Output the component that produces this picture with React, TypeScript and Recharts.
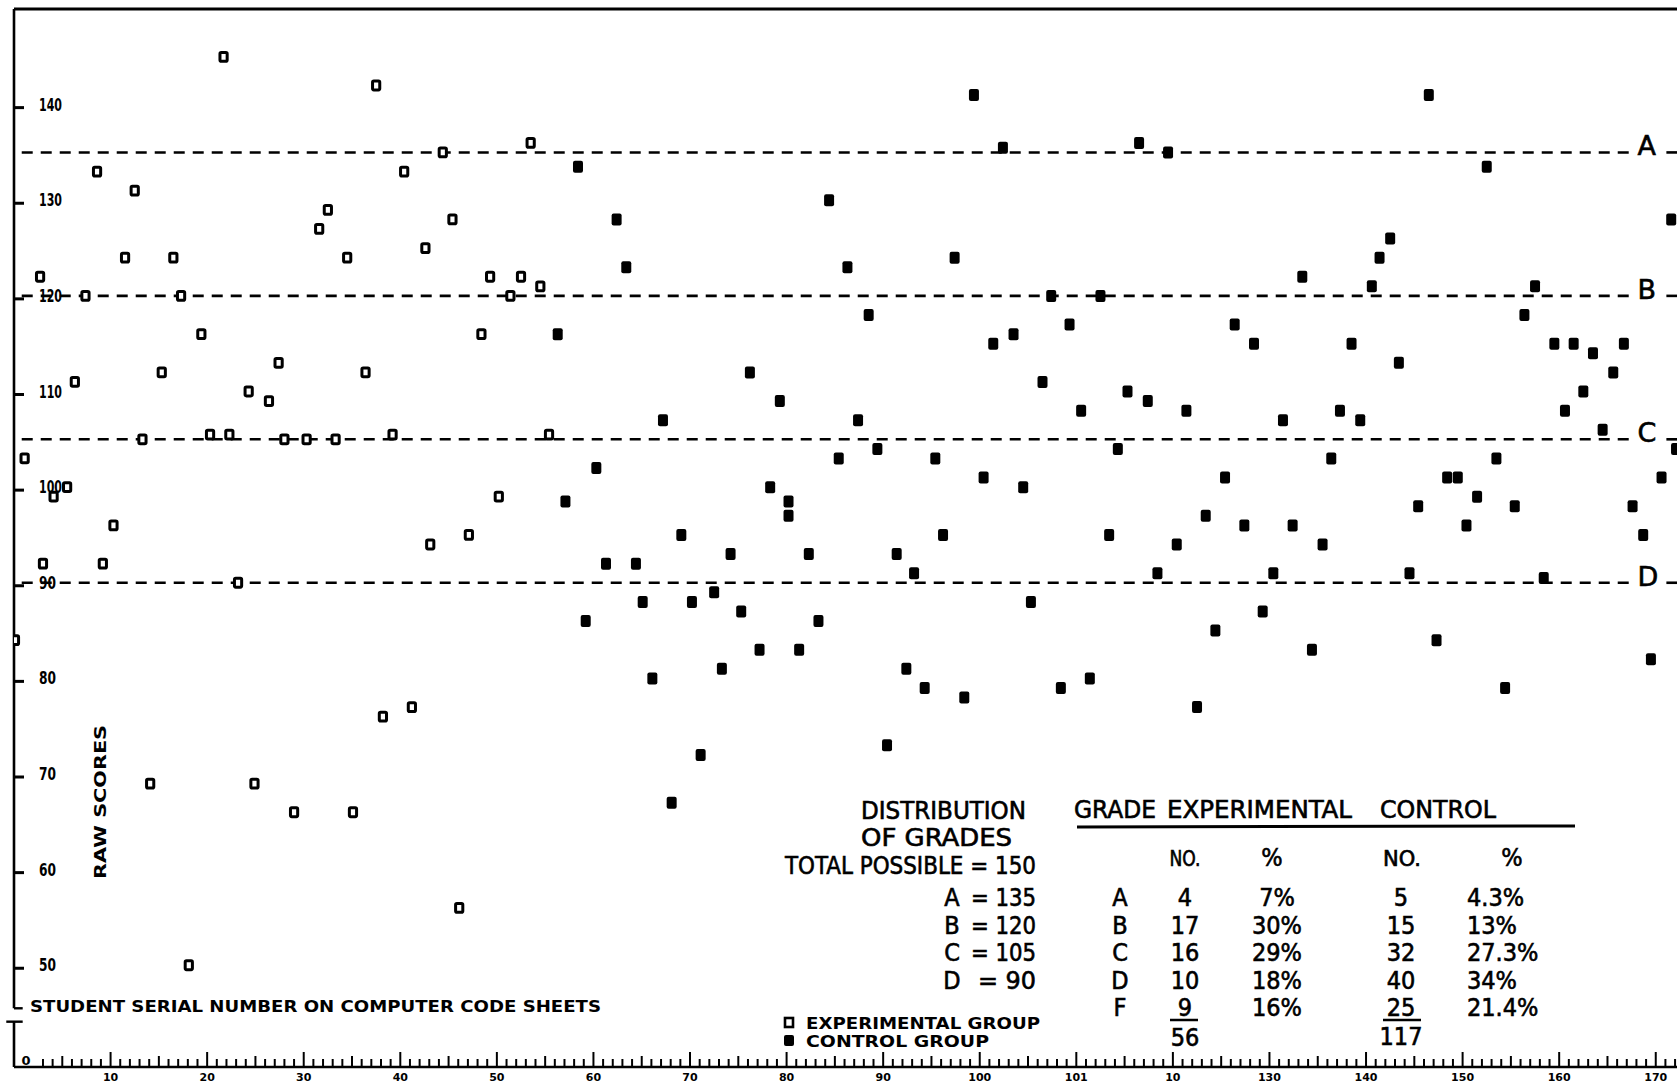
import React from 'react';
import { ScatterChart, Scatter, XAxis, YAxis, ReferenceLine } from 'recharts';

// ---------- data ----------
const expSerial = [0.1, 1.1, 2.7, 3.0, 4.1, 5.5, 6.3, 7.4, 8.6, 9.2, 10.3, 11.5, 12.5, 13.3, 14.1, 15.3, 16.5, 17.3, 18.1, 19.4, 20.3, 21.7, 22.3, 23.2, 24.3, 24.9, 26.4, 27.4, 28.0, 29.0, 30.3, 31.6, 32.5, 33.3, 34.5, 35.1, 36.4, 37.5, 38.2, 39.2, 40.4, 41.2, 42.6, 43.1, 44.4, 45.4, 46.1, 47.1, 48.4, 49.3, 50.2, 51.4, 52.5, 53.5, 54.5, 55.4];
const expScore = [84, 103, 122, 92, 99, 100, 111, 120, 133, 92, 96, 124, 131, 105, 69, 112, 124, 120, 50, 116, 105.5, 145, 105.5, 90, 110, 69, 109, 113, 105, 66, 105, 127, 129, 105, 124, 66, 112, 142, 76, 105.5, 133, 77, 125, 94, 135, 128, 56, 95, 116, 122, 99, 120, 122, 136, 121, 105.5];

const ctrlSerial = [56.3, 57.1, 58.4, 59.2, 60.3, 61.3, 62.4, 63.4, 64.4, 65.1, 66.1, 67.2, 68.1, 69.1, 70.2, 71.1, 72.5, 73.3, 74.2, 75.3, 76.2, 77.2, 78.3, 79.3, 80.2, 80.2, 81.3, 82.3, 83.3, 84.4, 85.4, 86.3, 87.4, 88.5, 89.4, 90.4, 91.4, 92.4, 93.2, 94.3, 95.4, 96.2, 97.4, 98.4, 99.4, 100.4, 101.4, 102.4, 103.5, 104.5, 105.3, 106.5, 107.4, 108.4, 109.3, 110.5, 111.4, 112.5, 113.4, 114.3, 115.3, 116.5, 117.4, 118.4, 119.5, 120.4, 121.4, 122.5, 123.4, 124.4, 125.4, 126.4, 127.4, 128.4, 129.3, 130.4, 131.4, 132.4, 133.4, 134.4, 135.5, 136.4, 137.3, 138.5, 139.4, 140.6, 141.4, 142.5, 143.4, 144.5, 145.4, 146.5, 147.3, 148.4, 149.5, 150.4, 151.5, 152.5, 153.5, 154.4, 155.4, 156.4, 157.5, 158.4, 159.5, 160.6, 161.5, 162.5, 163.5, 164.5, 165.6, 166.7, 167.6, 168.7, 169.5, 170.6, 171.6, 172.1];
const ctrlScore = [116, 98.5, 133.5, 86, 102, 92, 128, 123, 92, 88, 80, 107, 67, 95, 88, 72, 89, 81, 93, 87, 112, 83, 100, 109, 98.5, 97, 83, 93, 86, 130, 103, 123, 107, 118, 104, 73, 93, 81, 91, 79, 103, 95, 124, 78, 141, 101, 115, 135.5, 116, 100, 88, 111, 120, 79, 117, 108, 80, 120, 95, 104, 110, 136, 109, 91, 135, 94, 108, 77, 97, 85, 101, 117, 96, 115, 87, 91, 107, 96, 122, 83, 94, 103, 108, 115, 107, 121, 124, 126, 113, 91, 98, 141, 84, 101, 101, 96, 99, 133.5, 103, 79, 98, 118, 121, 90.5, 115, 108, 115, 110, 114, 106, 112, 115, 98, 95, 82, 101, 128, 104];

const scoreTicks = [50, 60, 70, 80, 90, 100, 110, 120, 130, 140];
const serialTickLabels = ['10', '20', '30', '40', '50', '60', '70', '80', '90', '100', '101', '10', '130', '140', '150', '160', '170'];
const gradeLetters = ['A', 'B', 'C', 'D'];
const gradeCutoffs = [135, 120, 105, 90];

const tableGrades = ['A', 'B', 'C', 'D', 'F'];
const cutoffLabels = ['= 135', '= 120', '= 105', '= 90'];
const expNo = ['4', '17', '16', '10', '9'];
const expPct = ['7%', '30%', '29%', '18%', '16%'];
const ctrlNo = ['5', '15', '32', '40', '25'];
const ctrlPct = ['4.3%', '13%', '27.3%', '34%', '21.4%'];
const expTotal = '56';
const ctrlTotal = '117';

// ---------- layout ----------
const W = 1677;
const H = 1084;
const X_MAX = 172.2;
const Y_MIN = 39.36;
const Y_MAX = 150;
const HAND = '"DejaVu Sans Condensed", "Liberation Sans Narrow", "DejaVu Sans", sans-serif';
const BLOCK = '"DejaVu Sans", "Liberation Sans", sans-serif';

const expData = expSerial.map((x, i) => ({ x, y: expScore[i] }));
const ctrlData = ctrlSerial.map((x, i) => ({ x, y: ctrlScore[i] }));
const rulerTicks = [0, ...Array.from({ length: 170 }, (_, i) => i + 3)];

const OpenSquare = (p: any) => (
  <rect x={p.cx - 3.6} y={p.cy - 4.4} width={7.2} height={8.8} fill="#fff" stroke="#000" strokeWidth={3} rx={1.3} />
);
const FilledSquare = (p: any) => (
  <rect x={p.cx - 5} y={p.cy - 6} width={10} height={12} fill="#000" rx={2} />
);

const RulerTick = (props: any) => {
  const { x, y, payload } = props;
  const v = payload.value;
  if (v === 0) {
    return (
      <text x={x + 12} y={y - 2} fontSize={13} fontWeight="bold" textAnchor="middle" fontFamily={BLOCK} fill="#000">0</text>
    );
  }
  const h = v % 10 === 0 ? 15 : v % 5 === 0 ? 11 : 8;
  const idx = v / 10 - 1;
  return (
    <g>
      <line x1={x} x2={x} y1={y} y2={y - h} stroke="#000" strokeWidth={2} />
      {v % 10 === 0 && idx >= 0 && idx < serialTickLabels.length ? (
        <text x={x} y={y + 6} dominantBaseline="hanging" textAnchor="middle" fontSize={11} fontWeight="bold" fontFamily={BLOCK} fill="#000">
          {serialTickLabels[idx]}
        </text>
      ) : null}
    </g>
  );
};

const ScoreTick = (props: any) => {
  const { x, y, payload } = props;
  const s = String(payload.value);
  return (
    <g>
      <rect x={x - 1} y={y + 1.5} width={11} height={3} fill="#000" stroke="none" />
      <text x={x + 25} y={y} dominantBaseline="central" fontSize={17} fontWeight="bold" fontFamily={HAND} fill="#000"
        textLength={s.length === 3 ? 23 : 17} lengthAdjust="spacingAndGlyphs">
        {s}
      </text>
    </g>
  );
};

const gradeLabel = (letter: string) => (p: any) => {
  const vb = p.viewBox || {};
  return (
    <text x={(vb.x || 0) + (vb.width || 0) + 5} y={(vb.y || 0) + 3} fontSize={27} fontFamily={BLOCK} fill="#000"
      stroke="#000" strokeWidth={0.6} textAnchor="start">
      {letter}
    </text>
  );
};

const T = (props: any) => (
  <text fontFamily={HAND} fontSize={25} fill="#000" stroke="#000" strokeWidth={0.6} lengthAdjust="spacingAndGlyphs" {...props} />
);

const rowBase = [906, 934, 961, 989, 1016];

const Annotations = () => (
  <svg width={W} height={H} style={{ position: 'absolute', left: 0, top: 0, pointerEvents: 'none' }}>
    {/* axis titles */}
    <text x={101} y={807} transform="rotate(-90 101 802)" textAnchor="middle" fontSize={15} fontWeight="bold"
      fontFamily={BLOCK} textLength={154} lengthAdjust="spacingAndGlyphs">RAW SCORES</text>
    <text x={30} y={1012} fontSize={16} fontWeight="bold" fontFamily={BLOCK} textLength={571} lengthAdjust="spacingAndGlyphs">
      STUDENT SERIAL NUMBER ON COMPUTER CODE SHEETS
    </text>

    {/* distribution block */}
    <T x={861} y={819} textLength={165}>DISTRIBUTION</T>
    <T x={861} y={846} textLength={151}>OF GRADES</T>
    <T x={785} y={874} textLength={251}>TOTAL POSSIBLE = 150</T>
    {gradeLetters.map((g, i) => (
      <g key={g}>
        <T x={952} y={rowBase[i]} textAnchor="middle">{g}</T>
        <T x={1036} y={rowBase[i]} textAnchor="end" textLength={i === 3 ? 58 : 65}>{cutoffLabels[i]}</T>
      </g>
    ))}

    {/* table header */}
    <T x={1074} y={818} textLength={82}>GRADE</T>
    <T x={1167} y={818} textLength={185}>EXPERIMENTAL</T>
    <T x={1380} y={818} textLength={116}>CONTROL</T>
    <line x1={1077} x2={1575} y1={827} y2={826} stroke="#000" strokeWidth={3} />
    <T x={1185} y={866} textAnchor="middle" textLength={31} fontSize={21}>NO.</T>
    <T x={1272} y={866} textAnchor="middle">%</T>
    <T x={1402} y={866} textAnchor="middle" textLength={38} fontSize={21}>NO.</T>
    <T x={1512} y={866} textAnchor="middle">%</T>

    {tableGrades.map((g, i) => (
      <g key={g}>
        <T x={1120} y={rowBase[i]} textAnchor="middle">{g}</T>
        <T x={1185} y={rowBase[i]} textAnchor="middle">{expNo[i]}</T>
        <T x={1277} y={rowBase[i]} textAnchor="middle">{expPct[i]}</T>
        <T x={1401} y={rowBase[i]} textAnchor="middle">{ctrlNo[i]}</T>
        <T x={1467} y={rowBase[i]}>{ctrlPct[i]}</T>
      </g>
    ))}
    <line x1={1170} x2={1198} y1={1020} y2={1020} stroke="#000" strokeWidth={2.5} />
    <line x1={1383} x2={1421} y1={1020} y2={1020} stroke="#000" strokeWidth={2.5} />
    <T x={1185} y={1046} textAnchor="middle">{expTotal}</T>
    <T x={1401} y={1045} textAnchor="middle">{ctrlTotal}</T>

    {/* legend */}
    <rect x={785} y={1018} width={8} height={9} fill="#fff" stroke="#000" strokeWidth={2.6} />
    <text x={806} y={1029} fontSize={15} fontWeight="bold" fontFamily={BLOCK} textLength={234} lengthAdjust="spacingAndGlyphs">EXPERIMENTAL GROUP</text>
    <rect x={784} y={1035} width={10} height={11} fill="#000" rx={2} />
    <text x={806} y={1047} fontSize={15} fontWeight="bold" fontFamily={BLOCK} textLength={183} lengthAdjust="spacingAndGlyphs">CONTROL GROUP</text>
  </svg>
);

export default function App() {
  return (
    <div style={{ position: 'absolute', left: 0, top: 0, width: W, height: H, background: '#fff', overflow: 'hidden' }}>
      <ScatterChart width={W} height={H} margin={{ top: 9, right: 0, bottom: 0, left: 13 }}>
        <XAxis type="number" dataKey="x" domain={[0, X_MAX]} ticks={rulerTicks} interval={0} height={17}
          allowDataOverflow axisLine={{ stroke: '#000', strokeWidth: 2.6 }} tickLine={false} tickSize={0} tickMargin={0}
          tick={<RulerTick />} />
        <YAxis type="number" dataKey="y" domain={[Y_MIN, Y_MAX]} ticks={scoreTicks} interval={0} width={1}
          allowDataOverflow axisLine={false} tickLine={false} tickSize={0} tickMargin={0} tick={<ScoreTick />} />

        {/* frame: top border, broken y axis */}
        <ReferenceLine y={Y_MAX} stroke="#000" strokeWidth={3} ifOverflow="visible" />
        <ReferenceLine segment={[{ x: 0, y: 45.5 }, { x: 0, y: Y_MAX }]} stroke="#000" strokeWidth={2.6} ifOverflow="visible" />
        <ReferenceLine segment={[{ x: 0, y: 45.5 }, { x: 0.9, y: 45.5 }]} stroke="#000" strokeWidth={2.4} ifOverflow="visible" />
        <ReferenceLine segment={[{ x: -0.8, y: 44.1 }, { x: 0.9, y: 44.1 }]} stroke="#000" strokeWidth={2.4} ifOverflow="visible" />
        <ReferenceLine segment={[{ x: 0, y: 44.1 }, { x: 0, y: Y_MIN }]} stroke="#000" strokeWidth={2.6} ifOverflow="visible" />

        {/* grade cut-off lines */}
        {gradeCutoffs.map((c, i) => (
          <ReferenceLine key={'g' + i} segment={[{ x: 0.8, y: c }, { x: 167.6, y: c }]} stroke="#000" strokeWidth={2.6}
            strokeDasharray="11 8" ifOverflow="visible" label={{ content: gradeLabel(gradeLetters[i]) } as any} />
        ))}
        {gradeCutoffs.map((c, i) => (
          <ReferenceLine key={'t' + i} segment={[{ x: 171.1, y: c }, { x: X_MAX, y: c }]} stroke="#000" strokeWidth={2.6}
            strokeDasharray="11 8" ifOverflow="visible" />
        ))}

        <Scatter name="Experimental Group" data={expData} shape={<OpenSquare />} isAnimationActive={false} />
        <Scatter name="Control Group" data={ctrlData} shape={<FilledSquare />} isAnimationActive={false} />
      </ScatterChart>
      <Annotations />
    </div>
  );
}
